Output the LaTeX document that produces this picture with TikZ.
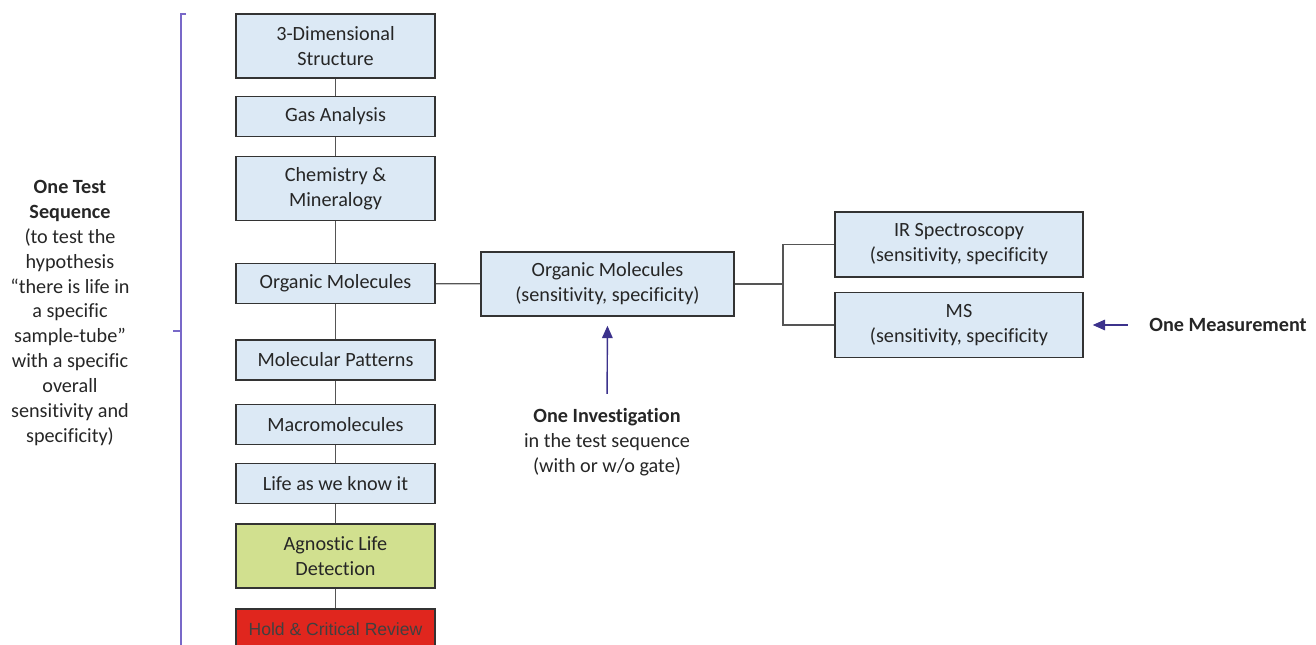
\documentclass[tikz,border=0pt]{standalone}
\usepackage{fontspec}
\setmainfont{Carlito}[Ligatures=NoCommon]
\newfontfamily\arialfont{Liberation Sans}
\usetikzlibrary{shapes,arrows.meta}

\definecolor{boxblue}{RGB}{220,233,245}
\definecolor{boxgreen}{RGB}{209,224,143}
\definecolor{boxred}{RGB}{224,38,30}
\definecolor{bracecol}{RGB}{120,104,200}
\definecolor{arrowcol}{RGB}{60,50,140}
\definecolor{edgecol}{RGB}{85,85,85}

\tikzset{
  testbox/.style={shape=rectangle,draw=black!80,fill=boxblue,align=center,line width=1.1pt,inner sep=0pt,minimum width=3.98cm,text=black!85},
  onerow/.style={minimum height=0.8cm},
  tworow/.style={minimum height=1.28cm},
  link/.style={-,draw=edgecol,line width=0.7pt},
  pointer/.style={-{Triangle[length=7pt,width=6pt]},draw=arrowcol,line width=0.8pt},
  note/.style={align=center,inner sep=0pt,text=black!85}
}

\begin{document}
\begin{tikzpicture}[x=0.02cm,y=-0.02cm,font=\fontsize{11.5}{14.2}\selectfont]
\useasboundingbox (0,0) rectangle (1316,645);
\clip (0,0) rectangle (1316,645);

\node[testbox,tworow] (0) at (335.5,46) {3-Dimensional\\Structure};
\node[testbox,onerow] (1) at (335.5,116.5) {Gas Analysis};
\node[testbox,tworow] (2) at (335.5,188.5) {Chemistry \&\\Mineralogy};
\node[testbox,onerow] (3) at (335.5,283.5) {Organic Molecules};
\node[testbox,onerow] (4) at (335.5,360) {Molecular Patterns};
\node[testbox,onerow] (5) at (335.5,424.5) {Macromolecules};
\node[testbox,onerow] (6) at (335.5,483.5) {Life as we know it};
\node[testbox,tworow,fill=boxgreen] (7) at (335.5,556) {Agnostic Life\\Detection};
\node[testbox,onerow,fill=boxred,font=\arialfont\fontsize{10}{12}\selectfont,text=black!75] (8) at (335.5,629) {Hold \& Critical Review};

\node[testbox,tworow,minimum width=5.06cm] (9) at (607.5,284) {Organic Molecules\\(sensitivity, specificity)};
\node[testbox,minimum width=4.96cm,minimum height=1.3cm] (10) at (959,244.5) {IR Spectroscopy\\(sensitivity, specificity};
\node[testbox,minimum width=4.96cm,minimum height=1.3cm] (11) at (959,325) {MS\\(sensitivity, specificity};
\coordinate (split) at (783,284);

\node[note] (12) at (70,313) {\textbf{One Test}\\\textbf{Sequence}\\(to test the\\hypothesis\\“there is life in\\a specific\\sample-tube”\\with a specific\\overall\\sensitivity and\\specificity)};
\node[note] (13) at (607,442) {\textbf{One Investigation}\\in the test sequence\\(with or w/o gate)};
\node[note,anchor=west] (14) at (1149,325) {\textbf{One Measurement}};

\path [link] (0) edge node {} (1);
\path [link] (1) edge node {} (2);
\path [link] (2) edge node {} (3);
\path [link] (3) edge node {} (4);
\path [link] (4) edge node {} (5);
\path [link] (5) edge node {} (6);
\path [link] (6) edge node {} (7);
\path [link] (7) edge node {} (8);
\path [link] (3) edge node {} (9);
\draw [link] (9) -- (split);
\draw [link] (10.west) -| (split) |- (11.west);

\draw [pointer,shorten <=8pt,shorten >=5pt] (13.north) -- (9.south);
\draw [pointer,shorten <=12pt,shorten >=5pt] (14.west) -- (11.east);

\draw [draw=bracecol,line width=0.9pt] (186,14) -- (181,14) -- (181,645);
\draw [draw=bracecol,line width=0.9pt] (181,331) -- (173,331);
\end{tikzpicture}
\end{document}
